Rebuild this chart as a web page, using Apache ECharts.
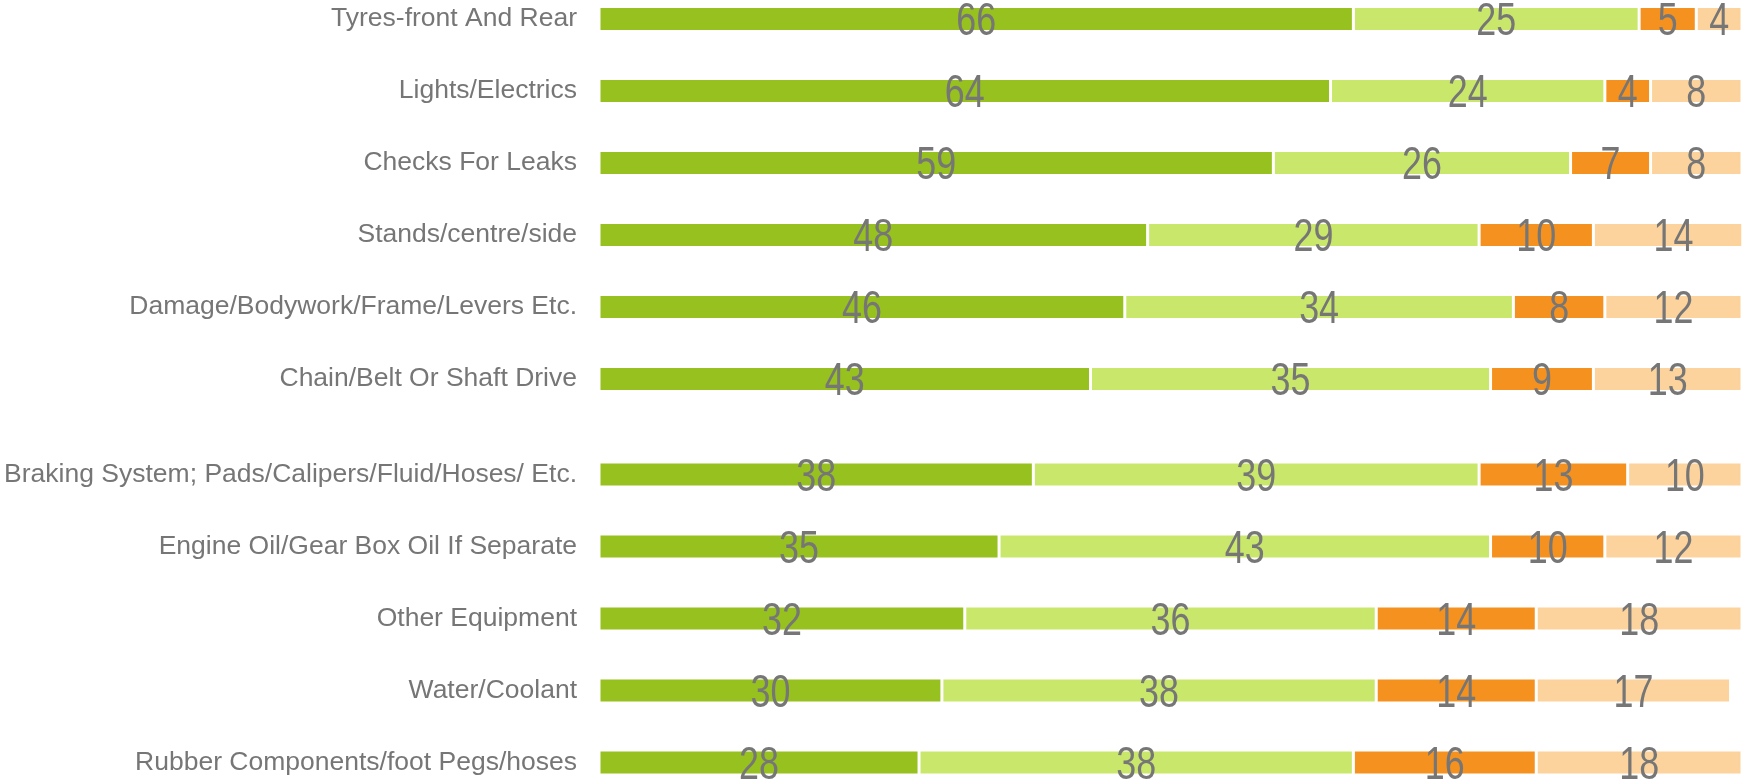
<!DOCTYPE html>
<html>
<head>
<meta charset="utf-8">
<title>Maintenance checks</title>
<script src="https://cdn.jsdelivr.net/npm/echarts@6/dist/echarts.min.js"></script>
<style>
  html, body { margin: 0; padding: 0; background: #ffffff; }
  #chart { width: 1742px; height: 779px; }
</style>
</head>
<body>
<div id="chart"></div>
<script>
// Items, split into the two blocks of rows
const topCategories = [
  'Tyres-front And Rear',
  'Lights/Electrics',
  'Checks For Leaks',
  'Stands/centre/side',
  'Damage/Bodywork/Frame/Levers Etc.',
  'Chain/Belt Or Shaft Drive'
];
const bottomCategories = [
  'Braking System; Pads/Calipers/Fluid/Hoses/ Etc.',
  'Engine Oil/Gear Box Oil If Separate',
  'Other Equipment',
  'Water/Coolant',
  'Rubber Components/foot Pegs/hoses'
];

// Percentages per response group (same row order as the categories)
const seriesNames = ['Always', 'Usually', 'Sometimes', 'Never'];
const topValues = [
  [66, 64, 59, 48, 46, 43],
  [25, 24, 26, 29, 34, 35],
  [5, 4, 7, 10, 8, 9],
  [4, 8, 8, 14, 12, 13]
];
const bottomValues = [
  [38, 35, 32, 30, 28],
  [39, 43, 36, 38, 38],
  [13, 10, 14, 14, 16],
  [10, 12, 18, 17, 18]
];

const colors = ['#96C11E', '#C9E86B', '#F5921F', '#FCD39C'];
const textGray = '#767676';
const labelFont = "'Liberation Sans', Arial, sans-serif";

const rowStep = 72;
const gridLeft = 599;

function grid(top, rows) {
  return {
    left: gridLeft,
    right: 0,
    top: top,
    height: rows * rowStep,
    containLabel: false,
    outerBoundsMode: 'none'
  };
}

function xAxis(gridIndex) {
  return {
    type: 'value', gridIndex: gridIndex, min: 0, max: 100,
    show: false
  };
}

function yAxis(gridIndex, cats) {
  return {
    type: 'category', gridIndex: gridIndex, data: cats, inverse: true,
    axisLine: { show: false }, axisTick: { show: false }, splitLine: { show: false },
    axisLabel: {
      color: textGray,
      fontFamily: labelFont,
      fontSize: 26.5,
      margin: 22
    }
  };
}

// Stacked bar segments
function barSeries(values, axisIndex, stackName) {
  return values.map((vals, i) => ({
    name: seriesNames[i],
    type: 'bar',
    stack: stackName,
    xAxisIndex: axisIndex,
    yAxisIndex: axisIndex,
    data: vals,
    barWidth: 25,
    itemStyle: { color: colors[i], borderColor: '#ffffff', borderWidth: 1.5 },
    emphasis: { disabled: true },
    animation: false
  }));
}

// Value labels in a narrow face, centred on each segment
function labelSeries(values, axisIndex) {
  const rows = values[0].length;
  const items = [];
  for (let r = 0; r < rows; r++) {
    let start = 0;
    for (let s = 0; s < values.length; s++) {
      const v = values[s][r];
      items.push([start + v / 2, r, v]);
      start += v;
    }
  }
  return {
    type: 'custom',
    xAxisIndex: axisIndex,
    yAxisIndex: axisIndex,
    data: items,
    encode: { x: 0, y: 1 },
    z: 5,
    silent: true,
    animation: false,
    renderItem: function (params, api) {
      const pt = api.coord([api.value(0), api.value(1)]);
      return {
        type: 'text',
        x: pt[0],
        y: pt[1] + 3.5,
        scaleX: 0.78,
        style: {
          text: String(api.value(2)),
          fontFamily: labelFont,
          fontSize: 46,
          fill: textGray,
          align: 'center',
          verticalAlign: 'middle'
        }
      };
    }
  };
}

const chart = echarts.init(document.getElementById('chart'));
chart.setOption({
  backgroundColor: '#ffffff',
  animation: false,
  grid: [grid(-17, topCategories.length), grid(438.4, bottomCategories.length)],
  xAxis: [xAxis(0), xAxis(1)],
  yAxis: [yAxis(0, topCategories), yAxis(1, bottomCategories)],
  series: [
    ...barSeries(topValues, 0, 'top'),
    ...barSeries(bottomValues, 1, 'bottom'),
    labelSeries(topValues, 0),
    labelSeries(bottomValues, 1)
  ]
});
</script>
</body>
</html>
